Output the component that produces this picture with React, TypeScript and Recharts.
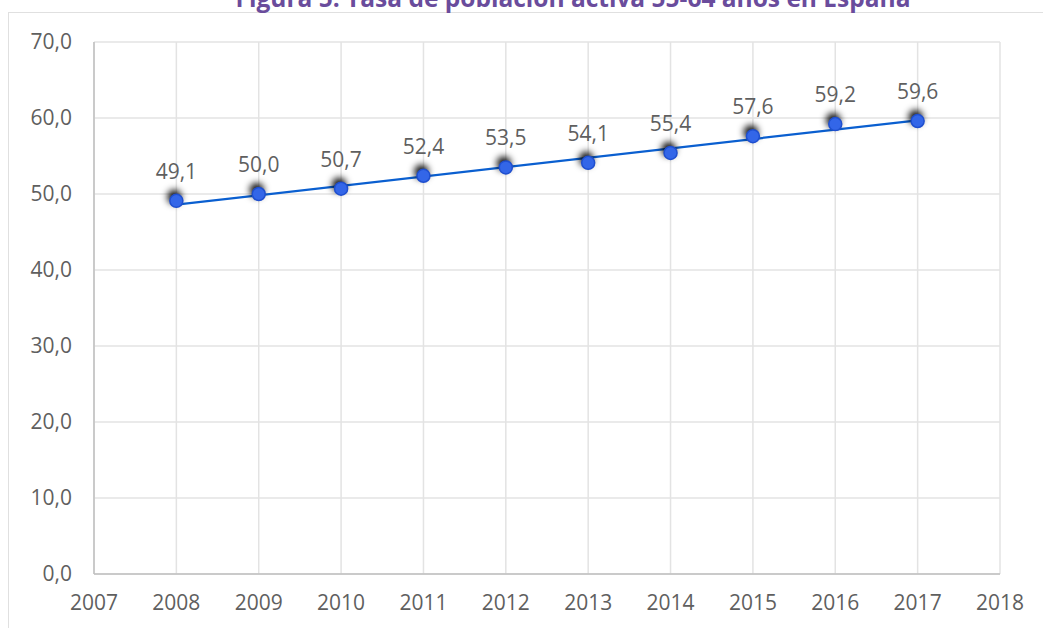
import React from "react"
import { LabelList, Line, LineChart, CartesianGrid, XAxis, YAxis } from "recharts"

const years = [2008, 2009, 2010, 2011, 2012, 2013, 2014, 2015, 2016, 2017]
const activityRate = [49.1, 50.0, 50.7, 52.4, 53.5, 54.1, 55.4, 57.6, 59.2, 59.6]
// linear trendline end points
const trendYears = [2008, 2017]
const trendValues = [48.6, 59.7]
const xTicks = [2007, 2008, 2009, 2010, 2011, 2012, 2013, 2014, 2015, 2016, 2017, 2018]
const yTicks = [0, 10, 20, 30, 40, 50, 60, 70]

const data = years.map((year, i) => {
  const t = trendYears.indexOf(year)
  return { year, value: activityRate[i], trend: t >= 0 ? trendValues[t] : null }
})

const fmt = (v: number) => v.toFixed(1).replace(".", ",")
const font = "'Open Sans', sans-serif"
const grey = "#5f5f5f"

const Marker = (props: any) => {
  const { cx, cy } = props
  if (cx == null || cy == null) return null
  return (
    <g>
      <circle cx={cx} cy={cy} r={7} fill="#000" filter="url(#glow)" />
      <circle cx={cx} cy={cy} r={6.5} fill="#3366e8" stroke="#1f4fcf" strokeWidth={1.5} />
    </g>
  )
}

const ValueLabel = (props: any) => {
  const { x, y, value } = props
  return (
    <text x={x} y={y - 22} textAnchor="middle" fill={grey} fontSize={21} fontFamily={font}>
      {fmt(value)}
    </text>
  )
}

export default function App() {
  return (
    <div style={{ position: "absolute", left: 0, top: 0, width: 1043, height: 628, overflow: "hidden", background: "#fff" }}>
      <div
        style={{
          position: "absolute",
          left: 8,
          top: 12,
          width: 1040,
          height: 630,
          border: "1.5px solid #e0e0e0",
        }}
      />
      <div
        style={{
          position: "absolute",
          left: 0,
          width: 1146,
          top: -19,
          textAlign: "center",
          fontFamily: font,
          fontWeight: 700,
          fontSize: 24.5,
          color: "#6a4c9c",
          whiteSpace: "nowrap",
        }}
      >
        Figura 5. Tasa de población activa 55-64 años en España
      </div>
      <div style={{ position: "absolute", left: 0, top: 0 }}>
        <LineChart width={1043} height={628} data={data} margin={{ top: 42, right: 43, bottom: 0, left: 0 }}>
          <defs>
            <filter id="glow" x="-150%" y="-150%" width="400%" height="400%">
              <feOffset dx={-2} dy={-4} />
              <feGaussianBlur stdDeviation={3.5} />
            </filter>
          </defs>
          <CartesianGrid stroke="#e3e3e3" strokeWidth={1.5} horizontalValues={yTicks} verticalValues={xTicks} />
          <XAxis
            dataKey="year"
            type="number"
            domain={[2007, 2018]}
            ticks={xTicks}
            interval={0}
            height={54}
            tickLine={false}
            tickSize={0}
            tickMargin={21}
            axisLine={{ stroke: "#bfbfbf", strokeWidth: 1.5 }}
            tick={{ fill: grey, fontSize: 21, fontFamily: font }}
          />
          <YAxis
            type="number"
            domain={[0, 70]}
            ticks={yTicks}
            interval={0}
            width={94}
            tickLine={false}
            tickSize={0}
            tickMargin={22}
            axisLine={{ stroke: "#bfbfbf", strokeWidth: 1.5 }}
            tickFormatter={fmt}
            tick={{ fill: grey, fontSize: 21, fontFamily: font }}
          />
          <Line
            dataKey="trend"
            type="linear"
            stroke="#0a5fd0"
            strokeWidth={2.25}
            dot={false}
            connectNulls
            isAnimationActive={false}
          />
          <Line
            dataKey="value"
            type="linear"
            stroke="none"
            dot={<Marker />}
            activeDot={false}
            isAnimationActive={false}
          >
            <LabelList dataKey="value" content={<ValueLabel />} />
          </Line>
        </LineChart>
      </div>
    </div>
  )
}
